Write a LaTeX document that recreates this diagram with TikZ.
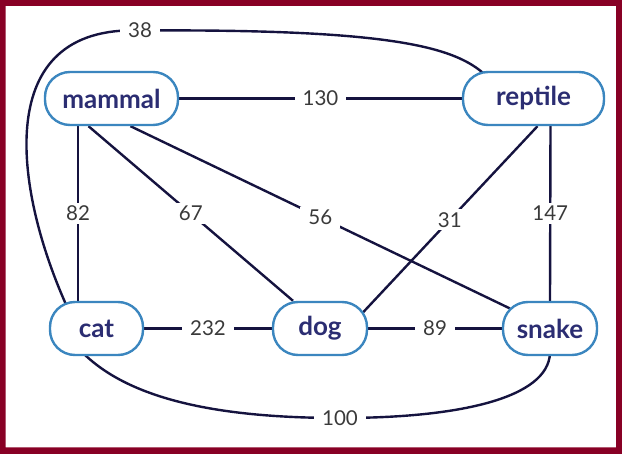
\documentclass[tikz,border=0pt]{standalone}
\usepackage{fontspec}
\setmainfont{Lato}
\usetikzlibrary{backgrounds}
\definecolor{frame}{HTML}{880025}
\definecolor{nodeblue}{HTML}{3B86BF}
\definecolor{navy}{HTML}{2B2D72}
\definecolor{edgec}{HTML}{15133F}
\definecolor{lblc}{HTML}{3A3A3A}
\begin{document}
\begin{tikzpicture}[x=1pt,y=-1pt,
  vert/.style={draw=nodeblue, line width=2.4pt, fill=white, rounded corners=25pt,
    minimum height=53pt, inner sep=0pt, text=navy,
    font=\fontsize{26}{26}\selectfont\bfseries},
  link/.style={draw=edgec, line width=2.4pt},
  lbl/.style={fill=white, text=lblc, inner sep=0pt, minimum width=0pt,
    outer sep=0pt, inner xsep=8pt, inner ysep=3pt,
    font=\fontsize{20.5}{20.5}\selectfont}]
\useasboundingbox (0,0) rectangle (622,454);
\fill[frame, even odd rule] (0,0) rectangle (622,454) (5.5,6) rectangle (616,447.5);

\node[vert, minimum width=133pt] (mammal) at (111.5,98.5) {mammal};
\node[vert, minimum width=141pt] (reptile) at (533.5,98.5) {reptile};
\node[vert, minimum width=93pt] (cat) at (96.5,328.5) {cat};
\node[vert, minimum width=94pt] (dog) at (320,328.5) {dog};
\node[vert, minimum width=94pt] (snake) at (550,328.5) {snake};

\begin{scope}[on background layer]
\path[link] (mammal.east) -- (reptile.west) node[lbl, midway] {130};
\path[link] ([xshift=-33.5pt]mammal.south) -- ([xshift=-18.5pt]cat.north) node[lbl, midway] {82};
\path[link] ([xshift=-23pt]mammal.south) -- ([xshift=-27pt]dog.north) node[lbl, midway] {67};
\path[link] ([xshift=19pt]mammal.south) -- ([shift={(-40,-20)}]snake.center) node[lbl, midway] {56};
\path[link] ([xshift=4pt]reptile.south) -- ([shift={(42,-15)}]dog.center) node[lbl, midway] {31};
\path[link] ([xshift=17pt]reptile.south) -- (snake.north) node[lbl, midway] {147};
\path[link] (cat.east) -- (dog.west) node[lbl, midway] {232};
\path[link] (dog.east) -- (snake.west) node[lbl, midway] {89};
\path[link] ([shift={(-30.5,-24)}]cat.center) .. controls (15,190) and (-10,25) .. (140,30.5)
  node[lbl] {38} .. controls (380,29) and (450,45) .. ([shift={(-51,-26)}]reptile.center);
\path[link] ([shift={(-14,24)}]cat.center) .. controls (130,400) and (220,418) .. (340,418)
  node[lbl] {100} .. controls (460,418) and (548,398) .. ([yshift=3pt]snake.south);
\end{scope}
\end{tikzpicture}
\end{document}
